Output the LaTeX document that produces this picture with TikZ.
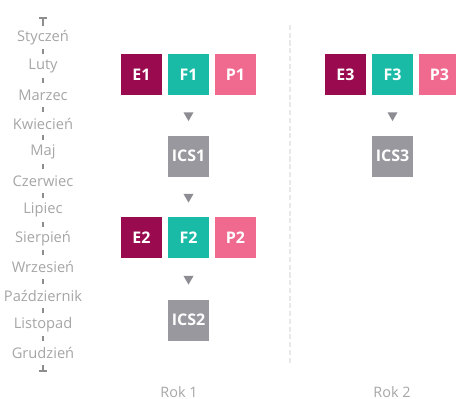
\documentclass[tikz,border=0pt]{standalone}
\usepackage{fontspec}
\setmainfont{Open Sans}
\usepackage{xcolor}
\usetikzlibrary{shapes.geometric,arrows.meta,positioning}

\definecolor{ecol}{HTML}{990A4E}
\definecolor{fcol}{HTML}{1ABBA6}
\definecolor{pcol}{HTML}{F06A90}
\definecolor{icol}{HTML}{9A989F}
\definecolor{tricol}{HTML}{8E8C93}
\definecolor{moncol}{HTML}{A6A6A6}
\definecolor{sepcol}{HTML}{E8E8E8}

\begin{document}
\begin{tikzpicture}[
  x=0.75pt, y=-0.75pt,
  node distance=4.1pt,
  blk/.style={rectangle, minimum size=30.75pt, inner sep=0pt, text=white,
              font=\bfseries\fontsize{12}{14}\selectfont},
  tri/.style={isosceles triangle, isosceles triangle stretches,
              shape border rotate=270, fill=tricol, inner sep=0pt,
              minimum width=7.5pt, minimum height=6.5pt},
  mon/.style={fill=white, text=moncol, inner sep=0pt, minimum height=17.8pt,
              font=\fontsize{11}{12}\selectfont},
  rok/.style={text=moncol, font=\fontsize{10.8}{12}\selectfont}
]
\useasboundingbox (0,0) rectangle (456,399);

% timeline of months
\coordinate (tTop) at (43,17);
\coordinate (tBot) at (43,372);
\draw[moncol!85!black, line width=1.2pt, {Bar[width=6pt]}-{Bar[width=6pt]}] (tTop) -- (tBot);
\foreach \m [count=\i] in {Styczeń,Luty,Marzec,Kwiecień,Maj,Czerwiec,Lipiec,Sierpień,Wrzesień,Październik,Listopad,Grudzień}
  \node[mon] (m\i) at (43,{37.5+28.7*(\i-1)}) {\m};

% year separator
\draw[sepcol, line width=1.1pt, dash pattern=on 3.8pt off 2pt] (290,25) -- (290,365);

% year 1
\node[blk, fill=ecol] (E1) at (141.5,74.5) {E1};
\node[blk, fill=fcol, right=of E1] (F1) {F1};
\node[blk, fill=pcol, right=of F1] (P1) {P1};
\node[blk, fill=icol, below=30pt of F1] (ICS1) {ICS1};
\node[blk, fill=fcol, below=30pt of ICS1] (F2) {F2};
\node[blk, fill=ecol, left=of F2] (E2) {E2};
\node[blk, fill=pcol, right=of F2] (P2) {P2};
\node[blk, fill=icol, below=30.75pt of F2] (ICS2) {ICS2};

% year 2
\node[blk, fill=ecol] (E3) at (345.5,74.5) {E3};
\node[blk, fill=fcol, right=of E3] (F3) {F3};
\node[blk, fill=pcol, right=of F3] (P3) {P3};
\node[blk, fill=icol, below=30pt of F3] (ICS3) {ICS3};

\path (F1) -- (ICS1) node[midway, tri] (a1) {};
\path (ICS1) -- (F2) node[midway, tri] (a2) {};
\path (F2) -- (ICS2) node[midway, tri] (a3) {};
\path (F3) -- (ICS3) node[midway, tri] (a4) {};

\node[rok] (rok1) at (179,392) {Rok 1};
\node[rok] (rok2) at (392,392) {Rok 2};
\end{tikzpicture}
\end{document}
